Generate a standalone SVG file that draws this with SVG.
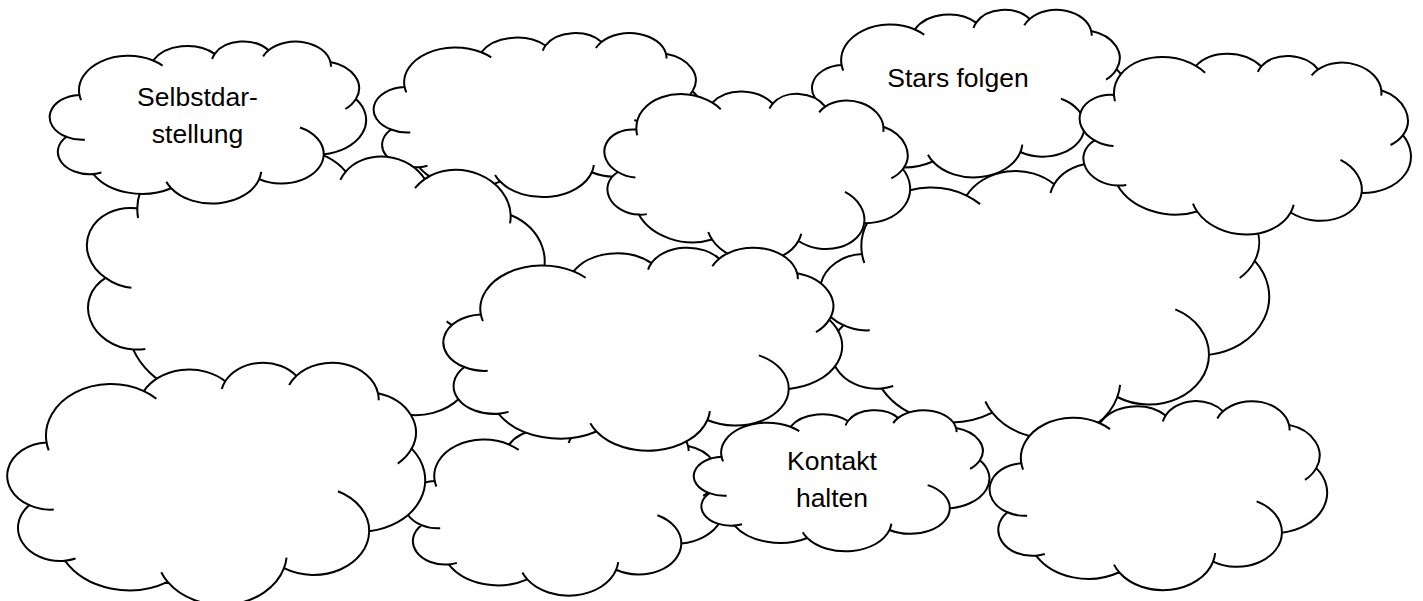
<svg xmlns="http://www.w3.org/2000/svg" xmlns:xlink="http://www.w3.org/1999/xlink" width="1423" height="601" viewBox="0 0 1423 601">
<style>
.outline{fill:#fff;stroke:#000;stroke-width:2;stroke-linejoin:round;vector-effect:non-scaling-stroke}
.inner{fill:none;stroke:#000;stroke-width:2;stroke-linecap:butt;vector-effect:non-scaling-stroke}
.lbl{font-family:"Liberation Sans",Arial,sans-serif;font-size:26.5px;fill:#000;text-anchor:middle}
</style>
<defs>
<g id="cloud">
<path class="outline" d="M90.28 332.64A156.32 212.73 0 0 1 324.19 120.41A123.45 168.22 0 0 1 519.81 79.43A101.04 137.62 0 0 1 690.58 57.41A112.43 152.66 0 0 1 887 129.05A123.45 168.36 0 0 1 968.02 357.84A156.83 213.43 0 0 1 865.84 699.13A133.91 182.11 0 0 1 661.02 852.14A156.3 213.31 0 0 1 381.49 908.87A178.7 244.05 0 0 1 134.37 821.05A100.93 136.99 0 0 1 48.92 591.37A100.58 137.62 0 0 1 90.28 332.64Z"/>
<path class="inner" d="M107.56 609.82A100.58 137.62 0 0 1 48.92 591.37M160.02 812.22A100.93 136.99 0 0 1 134.37 821.05M381.49 908.87A156.3 213.31 0 0 1 366.03 868.6M667.19 807.95A156.3 213.31 0 0 1 661.02 852.14M790.58 533.95A133.91 182.11 0 0 1 865.84 699.13M968.02 357.84A123.45 168.36 0 0 1 934.5 419.78M887 129.05A112.43 152.66 0 0 1 888.76 158.31M673.39 94.75A112.43 152.66 0 0 1 690.58 57.41M511.5 111.59A101.04 137.62 0 0 1 519.81 79.43M324.19 120.41A156.32 212.73 0 0 1 354.28 151.63M95.53 365.48A156.32 212.73 0 0 1 90.28 332.64"/>
</g>
</defs>
<g id="cloud-b"><use href="#cloud" xlink:href="#cloud" transform="translate(375 32.5) scale(0.328 0.164)"/></g>
<g id="cloud-f"><use href="#cloud" xlink:href="#cloud" transform="translate(315.8 288.4) rotate(10) translate(-231.5 -143) scale(0.463 0.286)"/></g>
<g id="cloud-a"><use href="#cloud" xlink:href="#cloud" transform="translate(51 41) scale(0.315 0.162)"/>
<text class="lbl" x="197.5" y="106">Selbstdar-</text><text class="lbl" x="197.5" y="143">stellung</text></g>
<g id="cloud-d"><use href="#cloud" xlink:href="#cloud" transform="translate(813.3 9.3) scale(0.3133 0.1675)"/>
<text class="lbl" x="958" y="87">Stars folgen</text></g>
<g id="cloud-h"><use href="#cloud" xlink:href="#cloud" transform="translate(821.6 162.4) scale(0.4474 0.2753)"/></g>
<g id="cloud-c"><use href="#cloud" xlink:href="#cloud" transform="translate(757.3 174.5) rotate(7.5) translate(-153.5 -86) scale(0.307 0.172)"/></g>
<g id="cloud-e"><use href="#cloud" xlink:href="#cloud" transform="translate(1245.4 142) rotate(7) translate(-166.15 -91.5) scale(0.3323 0.183)"/></g>
<g id="cloud-j"><use href="#cloud" xlink:href="#cloud" transform="translate(406 424) scale(0.318 0.171)"/></g>
<g id="cloud-g"><use href="#cloud" xlink:href="#cloud" transform="translate(445 247) scale(0.397 0.203)"/></g>
<g id="cloud-i"><use href="#cloud" xlink:href="#cloud" transform="translate(9 362) scale(0.416 0.242)"/></g>
<g id="cloud-k"><use href="#cloud" xlink:href="#cloud" transform="translate(695 409.8) scale(0.2943 0.141)"/>
<text class="lbl" x="832" y="470">Kontakt</text><text class="lbl" x="832" y="507">halten</text></g>
<g id="cloud-l"><use href="#cloud" xlink:href="#cloud" transform="translate(991 400.5) scale(0.336 0.189)"/></g>
<g id="connectors"/>
</svg>
